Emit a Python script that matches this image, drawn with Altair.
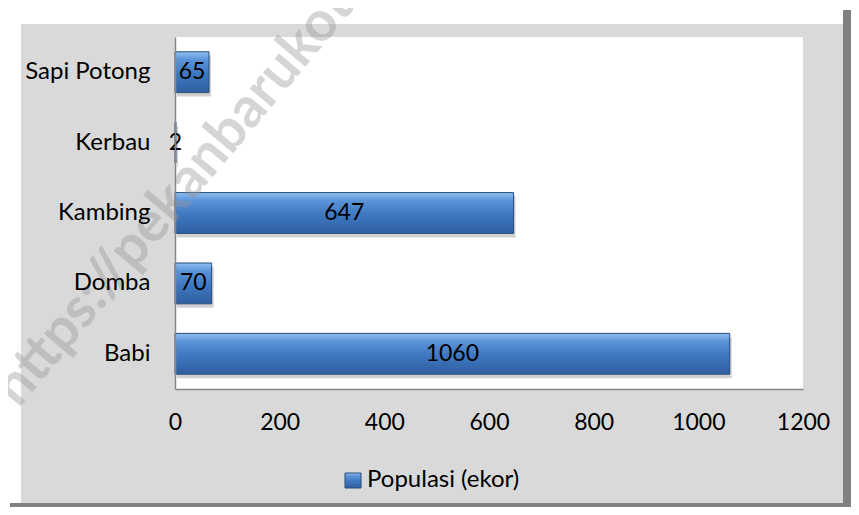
import altair as alt
import pandas as pd

categories = ["Sapi Potong", "Kerbau", "Kambing", "Domba", "Babi"]
values = [65, 2, 647, 70, 1060]
x_ticks = [0, 200, 400, 600, 800, 1000, 1200]
legend_label = "Populasi (ekor)"
watermark = "https://pekanbarukota.go.id"

df = pd.DataFrame({"Kategori": categories, "Populasi": values})

W, H = 628, 352
FONT = "Lato"

grad = alt.Gradient(
    gradient="linear",
    stops=[
        alt.GradientStop(color="#8dbff0", offset=0),
        alt.GradientStop(color="#5b93d8", offset=0.2),
        alt.GradientStop(color="#3e77c0", offset=0.55),
        alt.GradientStop(color="#2f5f9f", offset=1),
    ],
    x1=0, x2=0, y1=0, y2=1,
)

one = pd.DataFrame({"a": [0]})


def rect(x1, x2, y1, y2, color):
    return alt.Chart(one).mark_rect(color=color, clip=False).encode(
        x=alt.value(x1), x2=alt.value(x2), y=alt.value(y1), y2=alt.value(y2)
    )


dark = rect(-165, 684, -27, 478, "#808080")
white_frame = rect(-170, 668, -29, 466, "#ffffff")
gray = rect(-154, 668, -13, 466, "#d9d9d9")
plot_bg = rect(0, W, 0, H, "#ffffff")

yaxis = alt.Axis(
    title=None, ticks=False, labelPadding=25, labelFontSize=24,
    labelFont=FONT, labelColor="#000000", domainColor="#878787",
    domainWidth=1.5, labelLimit=300, zindex=1,
)
xaxis = alt.Axis(
    title=None, values=x_ticks, ticks=False, grid=False, labelPadding=22,
    labelFontSize=23, labelFont=FONT, labelColor="#000000", format="d",
    labelFlush=False, labelOverlap=False,
    domainColor="#878787", domainWidth=1.5, zindex=1,
)
yscale = alt.Scale(paddingInner=0.42, paddingOuter=0.21)
xscale = alt.Scale(domain=[0, 1200], nice=False)

yenc = alt.Y("Kategori:N", sort=categories, scale=yscale, axis=yaxis)
xenc = alt.X("Populasi:Q", scale=xscale, axis=xaxis)

shadow = alt.Chart(df).mark_bar(color="#000000", opacity=0.18, xOffset=2, yOffset=4).encode(
    x=xenc, y=yenc
)

bars = alt.Chart(df).mark_bar(color=grad, stroke="#2a4b78", strokeWidth=1).encode(
    x=xenc, y=yenc
)

labels = alt.Chart(df).transform_calculate(mid="datum.Populasi / 2").mark_text(
    fontSize=23, font=FONT, color="#000000", align="center", baseline="middle"
).encode(
    x=alt.X("mid:Q", scale=xscale, axis=xaxis),
    y=yenc,
    text="Populasi:Q",
)

leg_sq = alt.Chart(one).mark_rect(color=grad, stroke="#2a4b78", strokeWidth=1, clip=False).encode(
    x=alt.value(170), x2=alt.value(186), y=alt.value(436), y2=alt.value(451)
)
leg_txt = alt.Chart(pd.DataFrame({"t": [legend_label]})).mark_text(
    fontSize=24, font=FONT, color="#000000", align="left", baseline="middle"
).encode(x=alt.value(192), y=alt.value(443), text="t:N")

wm = alt.Chart(pd.DataFrame({"t": [watermark]})).mark_text(
    fontSize=56, font=FONT, fontWeight="bold", color="#979797", opacity=0.4,
    angle=310, align="center", baseline="middle",
).encode(x=alt.value(51), y=alt.value(98), text="t:N")

chart = alt.layer(
    dark, white_frame, gray, plot_bg, shadow, bars, labels, leg_sq, leg_txt, wm
).properties(
    width=W, height=H,
    padding={"left": 167, "top": 29, "right": 48, "bottom": 118},
    autosize=alt.AutoSizeParams(type="none"),
    background="#ffffff",
).configure_view(stroke=None)

chart.save("out.html", embed_options={"renderer": "svg", "actions": False})
